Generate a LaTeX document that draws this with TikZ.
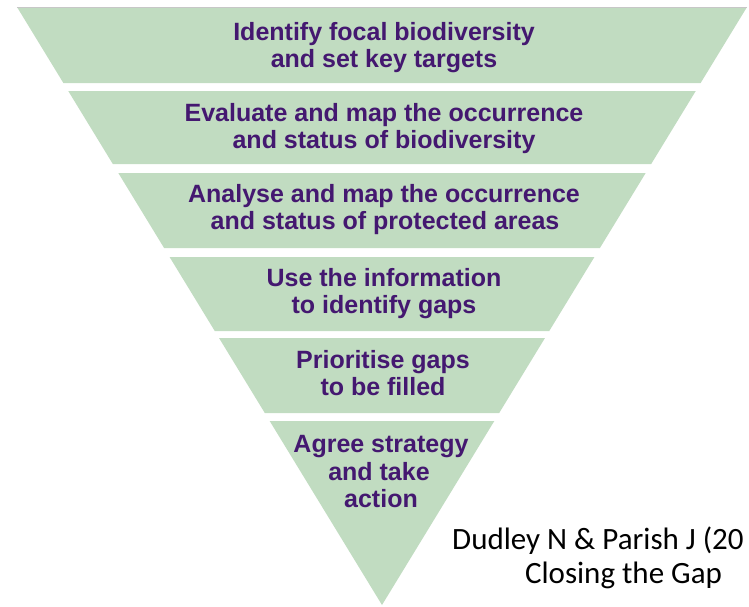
\documentclass[tikz,border=0pt]{standalone}
\usepackage{fontspec}
\setmainfont{Liberation Sans}
\newfontfamily\citefont{Carlito}
\definecolor{bandgreen}{RGB}{193,220,193}
\definecolor{bandtext}{RGB}{68,24,112}
\newcommand\funnelband[2]{%
  \fill[bandgreen] ({382-0.6104*(605-#1)},#1) -- ({382+0.6104*(605-#1)},#1)
    -- ({382+0.6104*(605-#2)},#2) -- ({382-0.6104*(605-#2)},#2) -- cycle;}
\begin{document}
\begin{tikzpicture}[x=1pt,y=-1pt,
  steptext/.style={anchor=base,inner sep=0pt,text=bandtext,
    font=\fontsize{25}{27}\selectfont\bfseries},
  citetext/.style={anchor=base,inner sep=0pt,text=black,
    font=\citefont\fontsize{31}{36}\selectfont}]
\useasboundingbox (0,0) rectangle (749,606);
% bands
\funnelband{7}{83}
\draw[black!22,line width=0.8pt] (17,7) -- (747,7);
\funnelband{91}{164}
\funnelband{173}{248}
\funnelband{257}{331}
\funnelband{338}{413}
\fill[bandgreen] ({382-0.6104*184},421) -- ({382+0.6104*184},421) -- (382,605) -- cycle;
% texts
\node[steptext] (t1a) at (384,40) {Identify focal biodiversity};
\node[steptext] (t1b) at (384,67) {and set key targets};
\node[steptext] (t2a) at (384,121) {Evaluate and map the occurrence};
\node[steptext] (t2b) at (384,148) {and status of biodiversity};
\node[steptext] (t3a) at (384,202) {Analyse and map the occurrence};
\node[steptext] (t3b) at (385,229) {and status of protected areas};
\node[steptext] (t4a) at (384,286) {Use the information};
\node[steptext] (t4b) at (384,313) {to identify gaps};
\node[steptext] (t5a) at (383,368) {Prioritise gaps};
\node[steptext] (t5b) at (383,395) {to be filled};
\node[steptext] (t6a) at (381,452) {Agree strategy};
\node[steptext] (t6b) at (379,480) {and take};
\node[steptext] (t6c) at (381,507) {action};
% citation
\node[citetext,anchor=base west] (c1) at (452,549) {Dudley N \& Parish J (20};
\node[citetext] (c2) at (623.5,583) {Closing the Gap};
\end{tikzpicture}
\end{document}
